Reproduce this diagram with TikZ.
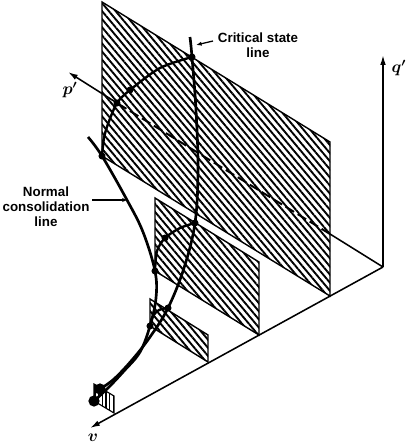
\documentclass[tikz,border=0pt]{standalone}
\usepackage{fontspec}
\setsansfont{Liberation Sans}
\usetikzlibrary{arrows.meta,patterns.meta}
\tikzset{
  plane/.style={draw, line width=1pt,
    pattern={Lines[angle=-50, distance=3.7pt, line width=1.35pt]}},
  stubplane/.style={draw, line width=0.8pt,
    pattern={Lines[angle=90, distance=2.6pt, line width=1pt]}},
  axis/.style={-{Latex[length=7pt, width=4pt]}, line width=1.1pt},
  hidden/.style={line width=1.4pt, dash pattern=on 7pt off 3pt},
  state/.style={line width=1.9pt},
  locus/.style={line width=1.7pt},
  pointer/.style={-{Latex[length=4pt, width=3pt]}, line width=0.9pt},
  pnt/.style={circle, fill, inner sep=0pt, minimum size=5pt},
  endpnt/.style={pnt, minimum size=8pt},
  tag/.style={font=\sffamily\bfseries\fontsize{9.5}{10.8}\selectfont, align=center},
  axlabel/.style={font=\large\boldmath}
}

\begin{document}
\begin{tikzpicture}[x=0.025cm, y=-0.025cm]
  \useasboundingbox (0,0) rectangle (414,448);

  % axes origin and tips
  \coordinate (O) at (383,267);
  \coordinate (qtip) at (383,55);
  \coordinate (vtip) at (90,428);
  \coordinate (ptip) at (68,72);
  \coordinate (pcross) at (330,234);
  \coordinate (parc) at (117,103);

  % constant-v sections
  \coordinate (big-bl) at (102,156);
  \coordinate (big-tl) at (102,2);
  \coordinate (big-tr) at (330,142);
  \coordinate (big-br) at (330,296);
  \coordinate (mid-bl) at (155,271);
  \coordinate (mid-tl) at (155,198);
  \coordinate (mid-tr) at (259,262);
  \coordinate (mid-br) at (259,335);
  \coordinate (small-bl) at (150,326);
  \coordinate (small-tl) at (150,299);
  \coordinate (small-tr) at (208,335);
  \coordinate (small-br) at (208,362);
  \coordinate (tiny-bl) at (94,401);
  \coordinate (tiny-tl) at (94,384);
  \coordinate (tiny-tr) at (114,396);
  \coordinate (tiny-br) at (114,413);

  % points on the critical state line
  \coordinate (cs1) at (192,57);
  \coordinate (cs2) at (195,223);
  \coordinate (cs3) at (168,308);
  \coordinate (cs4) at (100,389);

  \draw[plane] (big-bl) -- (big-tl) -- (big-tr) -- (big-br) -- cycle;
  \draw[hidden] (pcross) -- (parc);
  \draw[plane] (mid-bl) -- (mid-tl) -- (mid-tr) -- (mid-br) -- cycle;
  \draw[plane] (small-bl) -- (small-tl) -- (small-tr) -- (small-br) -- cycle;
  \draw[stubplane] (tiny-bl) -- (tiny-tl) -- (tiny-tr) -- (tiny-br) -- cycle;

  \draw[line width=1.1pt] (O) -- (pcross);
  \draw[axis] (parc) -- (ptip);
  \draw[axis] (O) -- (qtip);
  \draw[axis] (O) -- (vtip);

  % normal consolidation line and critical state line
  \draw[state] plot[smooth, tension=0.6] coordinates {(88,137) (big-bl) (127,200)
    (143,232) (mid-bl) (156,298) (small-bl) (140,352) (124,371) (108,388) (tiny-bl)};
  \draw[state] plot[smooth, tension=0.6] coordinates {(190,37) (cs1) (196,110)
    (198,170) (cs2) (184,268) (cs3) (150,337) (132,360) (114,379) (cs4)};

  % sections of the state boundary surface
  \draw[locus] plot[smooth] coordinates {(big-bl) (104,138) (108,124) (parc)
    (130,90) (160,68) (cs1)};
  \draw[locus] plot[smooth] coordinates {(mid-bl) (157,251) (165,238) (180,228) (cs2)};
  \draw[locus] plot[smooth] coordinates {(small-bl) (153,316) (159,310) (cs3)};

  \node[pnt] (n1) at (big-bl) {};
  \node[pnt] (n2) at (mid-bl) {};
  \node[pnt] (n3) at (small-bl) {};
  \node[endpnt] (n4) at (tiny-bl) {};
  \node[pnt] (c1) at (cs1) {};
  \node[pnt] (c2) at (cs2) {};
  \node[pnt] (c3) at (cs3) {};
  \node[endpnt] (c4) at (cs4) {};
  \node[pnt] (a1) at (parc) {};
  \node[pnt] (a2) at (130,90) {};
  \node[pnt] (a3) at (165,238) {};

  \node[tag] (cslabel) at (258,45) {Critical state\\line};
  \node[tag] (nclabel) at (46,207) {Normal\\consolidation\\line};
  \coordinate (cstail) at (213,41);
  \coordinate (cshead) at (196,45);
  \coordinate (nctail) at (92,200);
  \coordinate (nchead) at (128,200);
  \draw[pointer] (cstail) -- (cshead);
  \draw[pointer] (nctail) -- (nchead);

  \node[axlabel] (plab) at (70,90) {$p'$};
  \node[axlabel] (qlab) at (399,68) {$q'$};
  \node[axlabel] (vlab) at (93,438) {$v$};
\end{tikzpicture}
\end{document}
